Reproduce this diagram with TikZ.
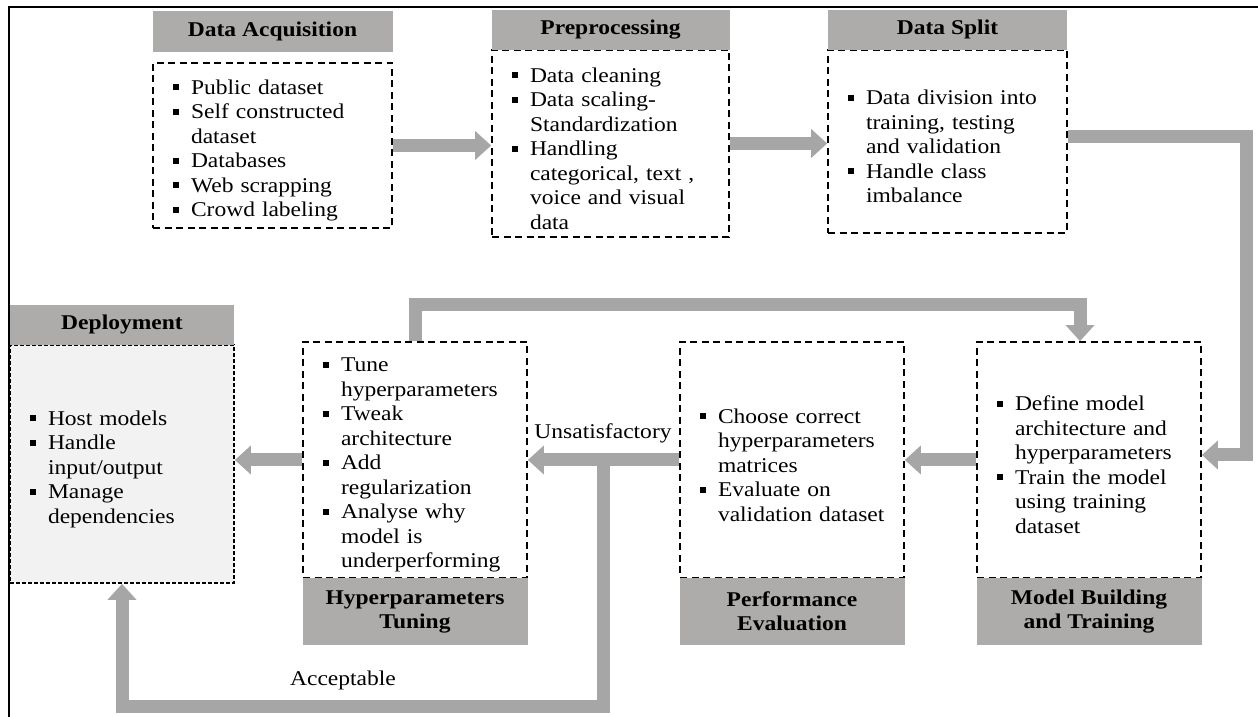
\documentclass[tikz,border=0pt]{standalone}
\usepackage{fontspec}
\setmainfont[FakeStretch=1.12]{Liberation Serif}
\usepackage{tikz}
\usetikzlibrary{positioning, calc, arrows.meta}

\definecolor{headgray}{RGB}{174,171,171}
\definecolor{arrowgray}{RGB}{166,166,166}
\definecolor{panelgray}{RGB}{242,242,242}

% one bullet point with hanging indent
\newcommand{\bitem}[1]{\par\leftskip=20pt\hangindent=18pt\hangafter=1\noindent\makebox[18pt][l]{\raisebox{4pt}{\rule{6pt}{6pt}}}#1\par}

\begin{document}
\begin{tikzpicture}[
    x = 1pt, y = 1pt,
    every node/.style = {inner sep = 0pt, font = \fontsize{21}{24.5}\selectfont},
    stagehead/.style = {fill = headgray, align = center, minimum width = #1,
      font = \fontsize{21}{24}\selectfont\bfseries},
    stagebody/.style = {draw, line width = 1.7pt, dash pattern = on 7pt off 4.5pt,
      text width = #1, align = left},
    flowarrow/.style = {draw = arrowgray, line width = 13pt, line join = miter,
      -{Triangle[length = 16pt, width = 28pt]}}
  ]
  \useasboundingbox (0,0) rectangle (1258,717);

  % frame
  \draw[line width = 2pt] (8.5,0) -- (8.5,709.5) -- (1258,709.5);

  % top row
  \node[stagebody = 239pt, minimum height = 165pt] (acqbody) at (272.5,571.5)
    {\bitem{Public dataset}\bitem{Self constructed\newline dataset}%
     \bitem{Databases}\bitem{Web scrapping}\bitem{Crowd labeling}};
  \node[stagehead = 240pt, minimum height = 41pt, above = 10pt of acqbody]
    (acqhead) {Data Acquisition};

  \node[stagebody = 237pt, minimum height = 187pt] (prebody) at (610.5,573.5)
    {\bitem{Data cleaning}\bitem{Data scaling-\newline Standardization}%
     \bitem{Handling\newline categorical, text ,\newline voice and visual\newline data}};
  \node[stagehead = 238pt, minimum height = 40pt, above = -1pt of prebody]
    (prehead) {Preprocessing};

  \node[stagebody = 239pt, minimum height = 183pt] (splitbody) at (947.5,575.5)
    {\bitem{Data division into\newline training, testing\newline and validation}%
     \bitem{Handle class\newline imbalance}};
  \node[stagehead = 239pt, minimum height = 40pt, above = -1pt of splitbody]
    (splithead) {Data Split};

  % bottom row
  \node[stagebody = 224pt, minimum height = 238pt, fill = panelgray,
    dash pattern = on 4pt off 2pt] (depbody) at (122,253)
    {\bitem{Host models}\bitem{Handle\newline input/output}%
     \bitem{Manage\newline dependencies}};
  \node[stagehead = 224pt, minimum height = 40pt, above = -1pt of depbody]
    (dephead) {Deployment};

  \node[stagebody = 224pt, minimum height = 236pt] (htbody) at (415,257)
    {\bitem{Tune\newline hyperparameters}\bitem{Tweak\newline architecture}%
     \bitem{Add\newline regularization}%
     \bitem{Analyse why\newline model is\newline underperforming}};
  \node[stagehead = 225pt, minimum height = 67pt, below = -1pt of htbody]
    (hthead) {Hyperparameters\\Tuning};

  \node[stagebody = 224pt, minimum height = 236pt] (pebody) at (792,257)
    {\bitem{Choose correct\newline hyperparameters\newline matrices}%
     \bitem{Evaluate on\newline validation dataset}};
  \node[stagehead = 225pt, minimum height = 67pt, below = -1pt of pebody]
    (pehead) {Performance\\Evaluation};

  \node[stagebody = 224pt, minimum height = 236pt] (mbbody) at (1089,257)
    {\bitem{Define model\newline architecture and\newline hyperparameters}%
     \bitem{Train the model\newline using training\newline dataset}};
  \node[stagehead = 225pt, minimum height = 67pt, below = -1pt of mbbody]
    (mbhead) {Model Building\\and Training};

  % arrows
  \coordinate (split) at ($(htbody.east)!0.5!(pebody.west)$);
  \draw[flowarrow] (acqbody.east) -- (acqbody.east -| prebody.west);
  \draw[flowarrow] (prebody.east) -- (prebody.east -| splitbody.west);
  \draw[flowarrow] ([yshift=5pt]splitbody.east) -- ++(178.5,0)
    |- ([yshift=5pt]mbbody.east);
  \draw[flowarrow] (mbbody.west) -- (pebody.east);
  \draw[flowarrow] (pebody.west) -- (htbody.east);
  \draw[flowarrow] (htbody.west) -- (htbody.west -| depbody.east);
  \draw[flowarrow] (htbody.north) -- ++(0,36.5) -| ([xshift=-9pt]mbbody.north);
  \draw[flowarrow] (split) -- ++(0,-247) -| (depbody.south);

  % labels
  \node (unsat) at (603,284) {Unsatisfactory};
  \node (accept) at (343,37) {Acceptable};
\end{tikzpicture}
\end{document}
